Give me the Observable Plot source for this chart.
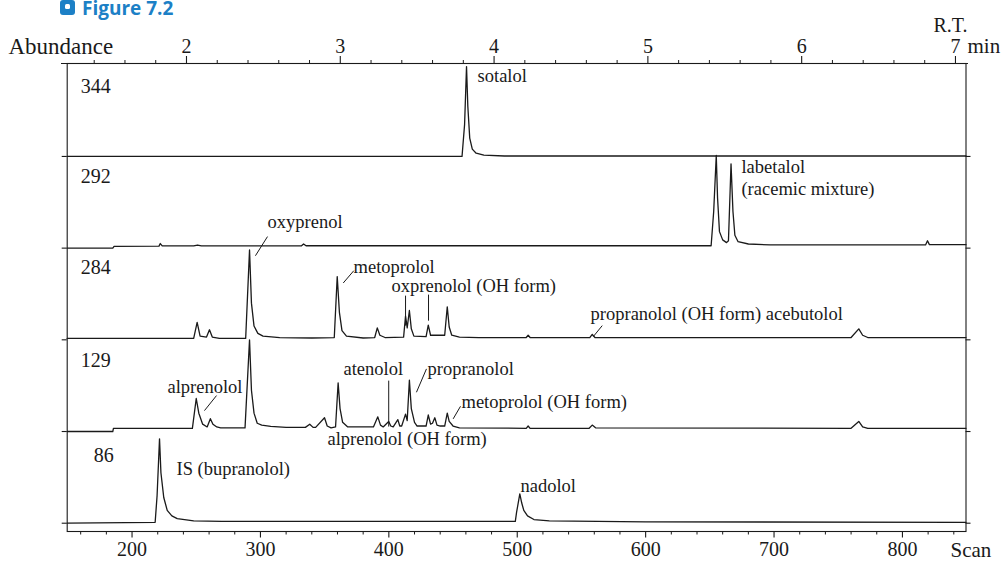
<!DOCTYPE html>
<html>
<head>
<meta charset="utf-8">
<script src="https://cdn.jsdelivr.net/npm/d3@7"></script>
<script src="https://cdn.jsdelivr.net/npm/@observablehq/plot@0.6"></script>
<style>
  body { margin: 0; background: #fff; }
  #wrap { position: relative; width: 1006px; height: 563px; }
  #title { position: absolute; left: 0; top: 0; width: 300px; height: 18px; z-index: 2; }
  #icon { position: absolute; left: 60px; top: 0px; width: 15px; height: 15px; background: #1c80c6; border-radius: 3px; }
  #icon div { position: absolute; left: 5px; top: 4px; width: 5px; height: 5px; background: #fff; border-radius: 1.5px; }
  #title span { position: absolute; left: 82px; top: 0px; line-height: 16px; font: bold 19px/16px "Open Sans", sans-serif; color: #1c80c6; white-space: nowrap; }
</style>
</head>
<body>
<div id="wrap">
<div id="title"><div id="icon"><div></div></div><span>Figure 7.2</span></div>
<div id="chart"></div>
</div>
<script>
// ---- data: ions (m/z) per panel, top to bottom
const panels = ["344", "292", "284", "129", "86"];

// scan numbers and relative abundance (% of panel height) per trace
const scan344 = [149.5, 457, 459, 460.5, 461.5, 463, 465, 468, 474, 490, 849.5];
const abund344 = [0, 0, 35, 98, 55, 20, 8, 3.5, 1.5, 0.5, 0.5];

const scan292 = [149.5, 185, 186, 221, 222, 223.5, 248, 251, 254, 332, 333.6, 335.5, 651, 653, 655, 656, 657.5, 660, 663, 664.5, 666.5, 668, 669.5, 672, 680, 697, 818, 819.5, 821, 849.5];
const abund292 = [0, 0, 2, 2.2, 5, 2.4, 2.4, 3.4, 2.5, 2.5, 4.5, 2.6, 2.6, 40, 101, 55, 18, 9, 6, 8, 92, 40, 14, 7, 4.5, 3.5, 3.5, 8, 3.8, 3.8];

const scan284 = [149.5, 248, 250.7, 253, 258, 260.3, 262.5, 268, 288.5, 291.5, 293, 295, 298, 302, 315, 340, 357.5, 359.8, 361.5, 363.5, 367, 380, 389, 391, 393, 397, 411.5, 413, 414.3, 416, 417.5, 419.5, 429, 430.7, 432.5, 443.5, 445.5, 447, 449, 455, 470, 507, 508.5, 510, 556.5, 558.4, 560.5, 760, 766, 769, 773, 849.5];
const abund284 = [1.5, 1.5, 19, 4, 3, 11, 3, 1.5, 1.5, 98, 40, 15, 7, 4, 2.5, 2, 2.5, 69, 30, 10, 4, 2, 2.5, 13, 5, 2.5, 3, 26, 13, 32, 12, 4, 3.5, 16, 5, 5, 36, 14, 5, 3, 2.5, 2.5, 5, 2.5, 2.5, 6, 2.5, 2.5, 12, 5, 2.5, 2.5];

const scan129 = [149.5, 185, 185.5, 247, 250, 252, 255, 258.5, 261, 263, 266, 269, 288, 291.5, 293, 295, 297.5, 301, 308, 320, 335, 338.4, 341, 343, 349.9, 352, 355, 358.5, 360.5, 362, 364, 368, 388, 391.4, 393.5, 395.6, 399.9, 401.5, 403.4, 407, 408.5, 410, 413, 414.3, 416, 417.5, 420, 422, 429, 430.7, 432.5, 434, 435.8, 437.5, 440, 443.5, 445.5, 447, 450, 455, 507, 508.5, 510, 556, 558.4, 561, 760, 766, 769, 773, 849.5];
const abund129 = [0, 0, 3.5, 3.5, 36, 20, 8, 5, 14, 8, 5, 4, 4, 100, 45, 20, 9, 7, 5.5, 4.5, 4.5, 8, 4.5, 4.5, 15, 6, 4, 5, 53, 25, 10, 5, 5, 16, 7, 5, 11, 6, 5, 13, 6, 6, 19, 12, 56, 25, 10, 6, 6, 18, 8, 9, 15, 7, 6, 6, 20, 11, 6, 4, 3.5, 6, 3.5, 3.5, 7, 4, 3.5, 11, 5, 3.5, 3.5];

const scan86 = [149.5, 218, 219.5, 221.4, 222.5, 224.7, 227.4, 231, 235.2, 248, 270, 498.5, 499.5, 502, 503.5, 505.1, 508, 513, 525, 600, 849.5];
const abund86 = [0, 1, 30, 92, 55, 28, 14, 8, 5, 2.5, 2, 2, 12, 32, 22, 14, 8, 4, 2.5, 1.5, 1];

const traceScans = [scan344, scan292, scan284, scan129, scan86];
const traceAbund = [abund344, abund292, abund284, abund129, abund86];

// axis tick values
const scanTicks = [200, 300, 400, 500, 600, 700, 800];
const scanMinor = [160, 180, 220, 240, 260, 280, 320, 340, 360, 380, 420, 440, 460, 480, 520, 540, 560, 580, 620, 640, 660, 680, 720, 740, 760, 780, 820, 840];
const rtTicks = [2, 3, 4, 5, 6, 7];
const rtMinor = [1.4, 1.6, 1.8, 2.2, 2.4, 2.6, 2.8, 3.2, 3.4, 3.6, 3.8, 4.2, 4.4, 4.6, 4.8, 5.2, 5.4, 5.6, 5.8, 6.2, 6.4, 6.6, 6.8];

// peak annotations: text, anchor scan, panel, height (% of panel)
const peakLabels = [
  {text: "sotalol", scan: 469.1, panel: 0, h: 88},
  {text: "labetalol", scan: 674.6, panel: 1, h: 88.5},
  {text: "(racemic mixture)", scan: 674.6, panel: 1, h: 64.5},
  {text: "oxyprenol", scan: 305.5, panel: 1, h: 27.9},
  {text: "metoprolol", scan: 372.5, panel: 2, h: 79.8},
  {text: "oxprenolol (OH form)", scan: 402.1, panel: 2, h: 59.1},
  {text: "propranolol (OH form) acebutolol", scan: 557.1, panel: 2, h: 28.2},
  {text: "alprenolol", scan: 227.6, panel: 3, h: 48.2},
  {text: "atenolol", scan: 364.7, panel: 3, h: 68.3},
  {text: "propranolol", scan: 430.1, panel: 3, h: 68.3},
  {text: "metoprolol (OH form)", scan: 456.6, panel: 3, h: 31.9},
  {text: "alprenolol (OH form)", scan: 352.2, panel: 3, h: -8},
  {text: "IS (bupranolol)", scan: 234.6, panel: 4, h: 58.5},
  {text: "nadolol", scan: 502.5, panel: 4, h: 41}
];
const leaders = [
  {s1: 305.5, h1: 12.6, s2: 296.1, h2: -8.3, panel: 1},
  {s1: 372.7, h1: 75.4, s2: 364.5, h2: 62, panel: 2},
  {s1: 413, h1: 48.2, s2: 413, h2: 15.5, panel: 2},
  {s1: 430.9, h1: 49.3, s2: 430.9, h2: 20.9, panel: 2},
  {s1: 566.2, h1: 15.5, s2: 559.2, h2: 3.5, panel: 2},
  {s1: 265.8, h1: 39.2, s2: 256.4, h2: 22.8, panel: 3},
  {s1: 399.9, h1: 55.5, s2: 399.9, h2: 5.4, panel: 3},
  {s1: 429.3, h1: 68.3, s2: 421.5, h2: 42.8, panel: 3},
  {s1: 455.8, h1: 27.5, s2: 450.1, h2: 13.8, panel: 3}
];
const panelLabelScan = [160.1, 160.1, 160.1, 160.1, 170.2];
const panelLabelH = [75.8, 77.9, 79, 77.3, 73.8];

// ---- layout helpers
const X0 = 149.5, X1 = 849.5;
const left = 66.7, right = 965.5;
const pxToScan = (X1 - X0) / (right - left);
const unitPx = 91.75;
const yBottom = -8.3 / unitPx, yTop = 4 + 93 / unitPx;
const rtToScan = t => 242.4 + (t - 2) * 119.78;
const panelY = (p, h) => (4 - p) + h / 100;

const rows = [];
traceScans.forEach((scans, p) => {
  scans.forEach((s, k) => rows.push({panel: panels[p], scan: s, y: panelY(p, traceAbund[p][k])}));
});

const ink = "#1a1a1a";
const serif = "'Liberation Serif', 'Times New Roman', serif";

const chart = Plot.plot({
  width: 1006,
  height: 563,
  marginLeft: left,
  marginRight: 1006 - right,
  marginTop: 63,
  marginBottom: 32,
  x: {domain: [X0, X1], axis: null},
  y: {domain: [yBottom, yTop], axis: null},
  style: {fontFamily: serif, fontSize: "20px", color: ink, background: "#fff"},
  marks: [
    Plot.frame({stroke: ink, strokeWidth: 1.1}),
    // top axis line extended
    Plot.ruleY([yTop], {x1: X0 - 5.7 * pxToScan, x2: X1 + 2.5 * pxToScan, stroke: ink, strokeWidth: 1.1}),
    // baseline ticks left and right
    Plot.ruleY([0, 1, 2, 3, 4], {x1: X0 - 5 * pxToScan, x2: X0, stroke: ink, strokeWidth: 1.1}),
    Plot.ruleY([0, 1, 2, 3, 4], {x1: X1, x2: X1 + 5 * pxToScan, stroke: ink, strokeWidth: 1.1}),
    // bottom scan axis
    Plot.ruleX(scanTicks, {y1: yBottom, y2: yBottom - 6.5 / unitPx, stroke: ink, strokeWidth: 1.1}),
    Plot.ruleX(scanMinor, {y1: yBottom, y2: yBottom - 3.5 / unitPx, stroke: ink, strokeWidth: 1}),
    Plot.text(scanTicks, {x: d => d, y: yBottom - 18 / unitPx, text: d => String(d), fontSize: 20, lineAnchor: "middle", fill: ink}),
    Plot.text(["Scan"], {x: X1 - 15.5 * pxToScan, y: yBottom - 19 / unitPx, text: d => d, textAnchor: "start", lineAnchor: "middle", fontSize: 21, fill: ink}),
    // top R.T. axis
    Plot.ruleX(rtTicks, {x: rtToScan, y1: yTop, y2: yTop + 7 / unitPx, stroke: ink, strokeWidth: 1.1}),
    Plot.ruleX(rtMinor, {x: rtToScan, y1: yTop, y2: yTop + 3 / unitPx, stroke: ink, strokeWidth: 1}),
    Plot.text(rtTicks, {x: rtToScan, y: yTop + 17 / unitPx, text: d => String(d), fontSize: 20, lineAnchor: "middle", fill: ink}),
    Plot.text(["min"], {x: X1 + 1.5 * pxToScan, y: yTop + 17 / unitPx, text: d => d, textAnchor: "start", lineAnchor: "middle", fontSize: 21, fill: ink}),
    Plot.text(["R.T."], {x: X1 - 32.5 * pxToScan, y: yTop + 38 / unitPx, text: d => d, textAnchor: "start", lineAnchor: "middle", fontSize: 20, fill: ink}),
    Plot.text(["Abundance"], {x: X0 - 58.7 * pxToScan, y: yTop + 17 / unitPx, text: d => d, textAnchor: "start", lineAnchor: "middle", fontSize: 23, fill: ink}),
    // traces
    Plot.line(rows, {x: "scan", y: "y", z: "panel", stroke: ink, strokeWidth: 1.3, strokeLinejoin: "round"}),
    // panel ion labels
    Plot.text(panels, {x: (d, i) => panelLabelScan[i], y: (d, i) => panelY(i, panelLabelH[i]), text: d => d, textAnchor: "start", lineAnchor: "middle", fontSize: 20, fill: ink}),
    // leaders
    Plot.link(leaders, {x1: "s1", x2: "s2", y1: d => panelY(d.panel, d.h1), y2: d => panelY(d.panel, d.h2), stroke: ink, strokeWidth: 1}),
    // peak labels
    Plot.text(peakLabels, {x: "scan", y: d => panelY(d.panel, d.h), text: "text", textAnchor: "start", lineAnchor: "middle", fontSize: 18.5, fill: ink})
  ]
});
document.getElementById("chart").appendChild(chart);
</script>
</body>
</html>
